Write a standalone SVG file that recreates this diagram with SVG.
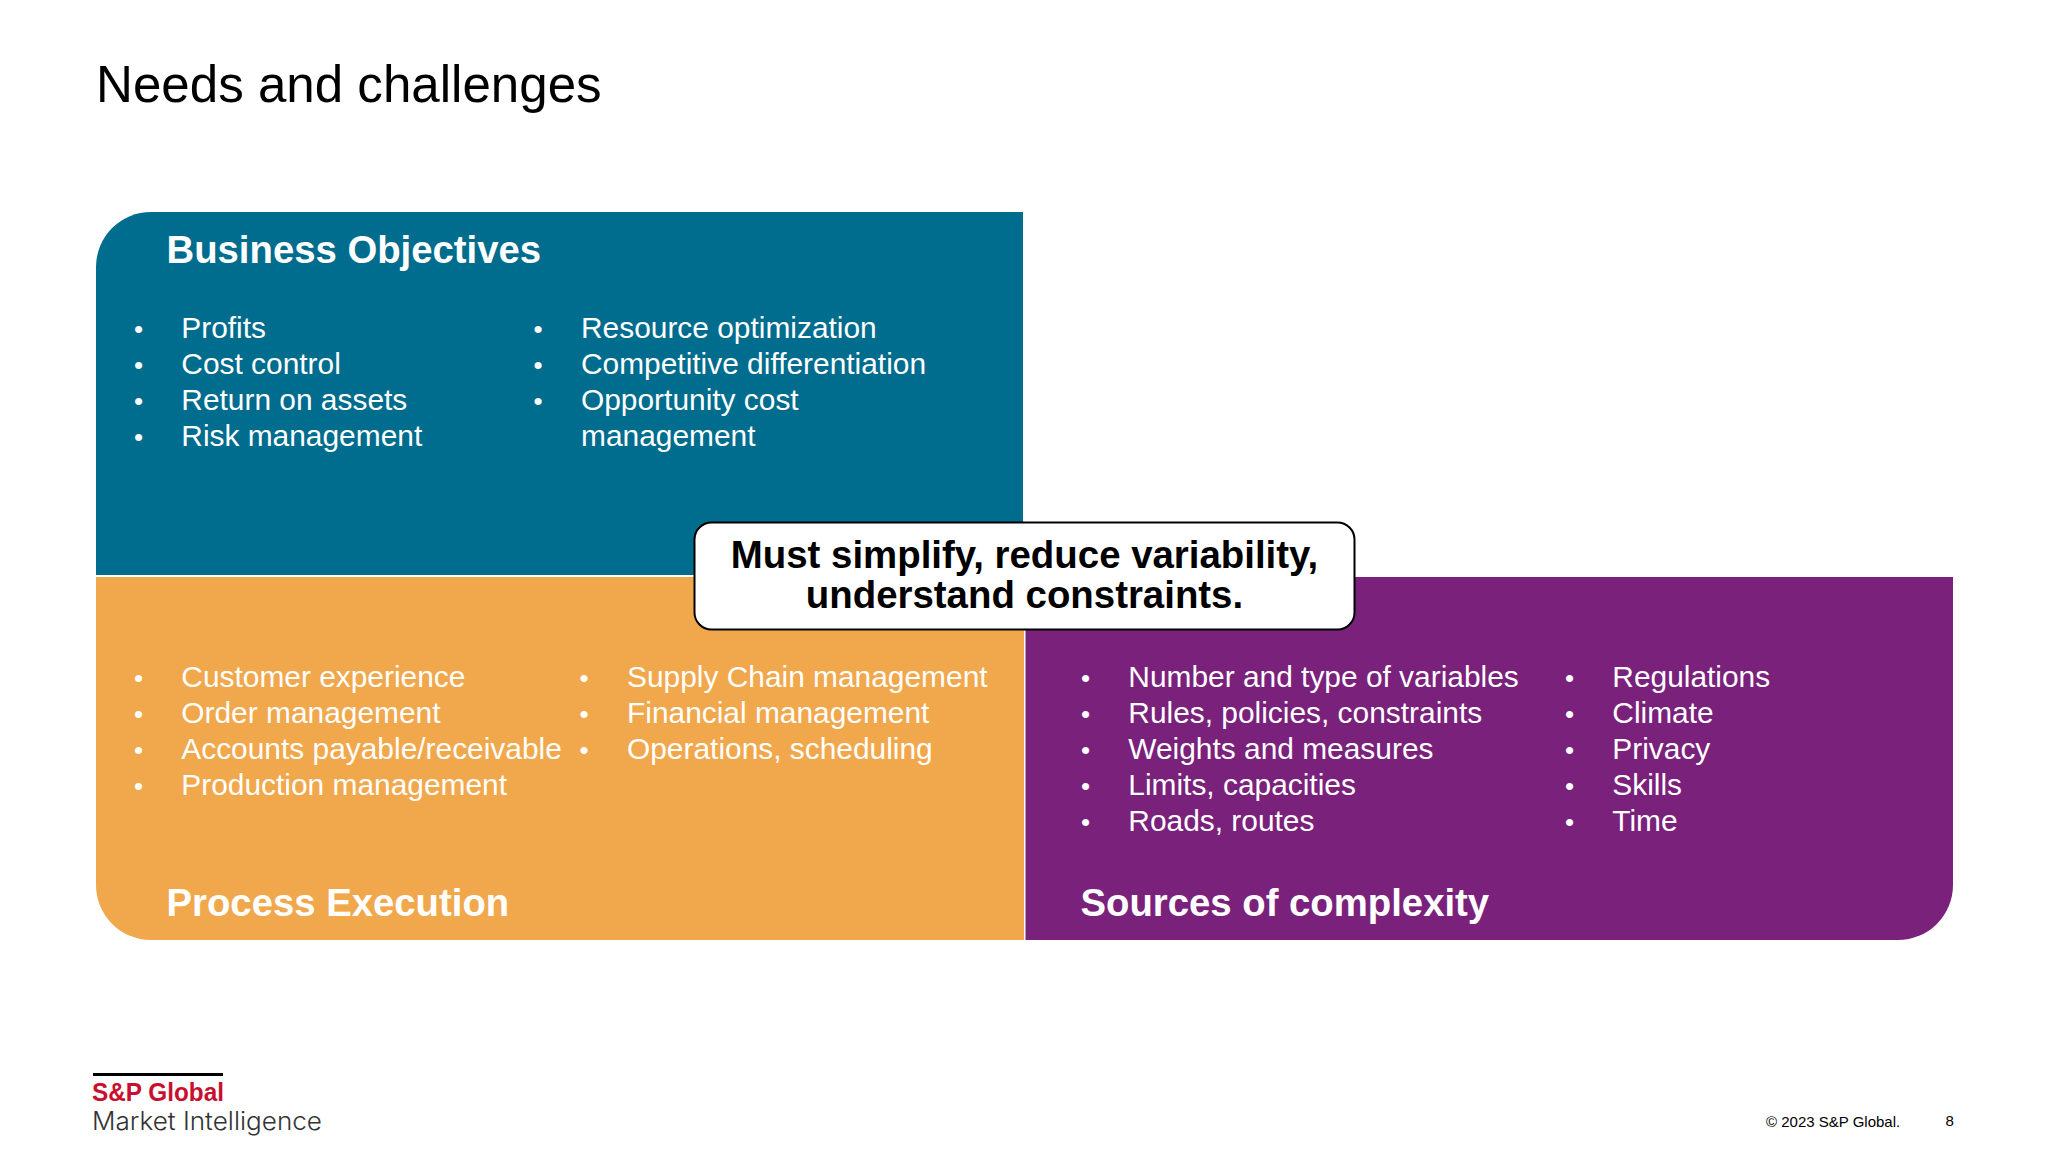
<svg xmlns="http://www.w3.org/2000/svg" width="2048" height="1152" viewBox="0 0 2048 1152">
<style>
text{font-family:"Liberation Sans",Arial,sans-serif}
.h{font-size:38.300px;font-weight:700;fill:#fff}
.b{font-size:29.900px;fill:#fff}
.d{font-size:26px;fill:#fff}
.c{font-size:38.400px;font-weight:700;fill:#000;text-anchor:middle}
.m{font-family:Inter,"Liberation Sans",sans-serif;font-weight:300;font-size:25px;fill:#333}
</style>
<rect width="2048" height="1152" fill="#fff"/>
<text x="96" y="102" font-size="51.100" fill="#000">Needs and challenges</text>
<g id="business-objectives">
<path d="M151 212H1023V575H96V267A55 55 0 0 1 151 212Z" fill="#006c8e"/>
<text class="h" x="166.500" y="262.500">Business Objectives</text>
<text class="d" x="134" y="337.500">•</text><text class="b" x="181.300" y="337.500">Profits</text>
<text class="d" x="134" y="373.500">•</text><text class="b" x="181.300" y="373.500">Cost control</text>
<text class="d" x="134" y="409.500">•</text><text class="b" x="181.300" y="409.500">Return on assets</text>
<text class="d" x="134" y="445.500">•</text><text class="b" x="181.300" y="445.500">Risk management</text>
<text class="d" x="533.500" y="337.500">•</text><text class="b" x="581" y="337.500">Resource optimization</text>
<text class="d" x="533.500" y="373.500">•</text><text class="b" x="581" y="373.500">Competitive differentiation</text>
<text class="d" x="533.500" y="409.500">•</text><text class="b" x="581" y="409.500">Opportunity cost</text>
<text class="b" x="581" y="445.500">management</text>
</g>
<g id="process-execution">
<path d="M96 577H1024V940H151A55 55 0 0 1 96 885Z" fill="#f1a84c"/>
<text class="d" x="134" y="686.500">•</text><text class="b" x="181.300" y="686.500">Customer experience</text>
<text class="d" x="134" y="722.500">•</text><text class="b" x="181.300" y="722.500">Order management</text>
<text class="d" x="134" y="758.500">•</text><text class="b" x="181.300" y="758.500">Accounts payable/receivable</text>
<text class="d" x="134" y="794.500">•</text><text class="b" x="181.300" y="794.500">Production management</text>
<text class="d" x="579.500" y="686.500">•</text><text class="b" x="627" y="686.500">Supply Chain management</text>
<text class="d" x="579.500" y="722.500">•</text><text class="b" x="627" y="722.500">Financial management</text>
<text class="d" x="579.500" y="758.500">•</text><text class="b" x="627" y="758.500">Operations, scheduling</text>
<text class="h" x="166.500" y="916">Process Execution</text>
</g>
<g id="sources-of-complexity">
<path d="M1025.500 577H1953V885A55 55 0 0 1 1898 940H1025.500Z" fill="#7a217c"/>
<text class="d" x="1081" y="686.500">•</text><text class="b" x="1128.300" y="686.500">Number and type of variables</text>
<text class="d" x="1081" y="722.500">•</text><text class="b" x="1128.300" y="722.500">Rules, policies, constraints</text>
<text class="d" x="1081" y="758.500">•</text><text class="b" x="1128.300" y="758.500">Weights and measures</text>
<text class="d" x="1081" y="794.500">•</text><text class="b" x="1128.300" y="794.500">Limits, capacities</text>
<text class="d" x="1081" y="830.500">•</text><text class="b" x="1128.300" y="830.500">Roads, routes</text>
<text class="d" x="1565" y="686.500">•</text><text class="b" x="1612.300" y="686.500">Regulations</text>
<text class="d" x="1565" y="722.500">•</text><text class="b" x="1612.300" y="722.500">Climate</text>
<text class="d" x="1565" y="758.500">•</text><text class="b" x="1612.300" y="758.500">Privacy</text>
<text class="d" x="1565" y="794.500">•</text><text class="b" x="1612.300" y="794.500">Skills</text>
<text class="d" x="1565" y="830.500">•</text><text class="b" x="1612.300" y="830.500">Time</text>
<text class="h" x="1080.500" y="916">Sources of complexity</text>
</g>
<g id="callout">
<rect x="694.500" y="522.500" width="660" height="107" rx="17" fill="#fff" stroke="#000" stroke-width="2"/>
<text class="c" x="1024.500" y="568">Must simplify, reduce variability,</text>
<text class="c" x="1024.500" y="608">understand constraints.</text>
</g>
<g id="footer">
<rect x="93" y="1073" width="130" height="3" fill="#000"/>
<text x="92" y="1101" font-size="26" font-weight="700" fill="#c8102e" textLength="132" lengthAdjust="spacingAndGlyphs">S&amp;P Global</text>
<text class="m" x="92" y="1130" textLength="230" lengthAdjust="spacingAndGlyphs">Market Intelligence</text>
<text x="1766" y="1127" font-size="15" fill="#000">© 2023 S&amp;P Global.</text>
<text x="1945.500" y="1126" font-size="15" fill="#000">8</text>
</g>
</svg>
